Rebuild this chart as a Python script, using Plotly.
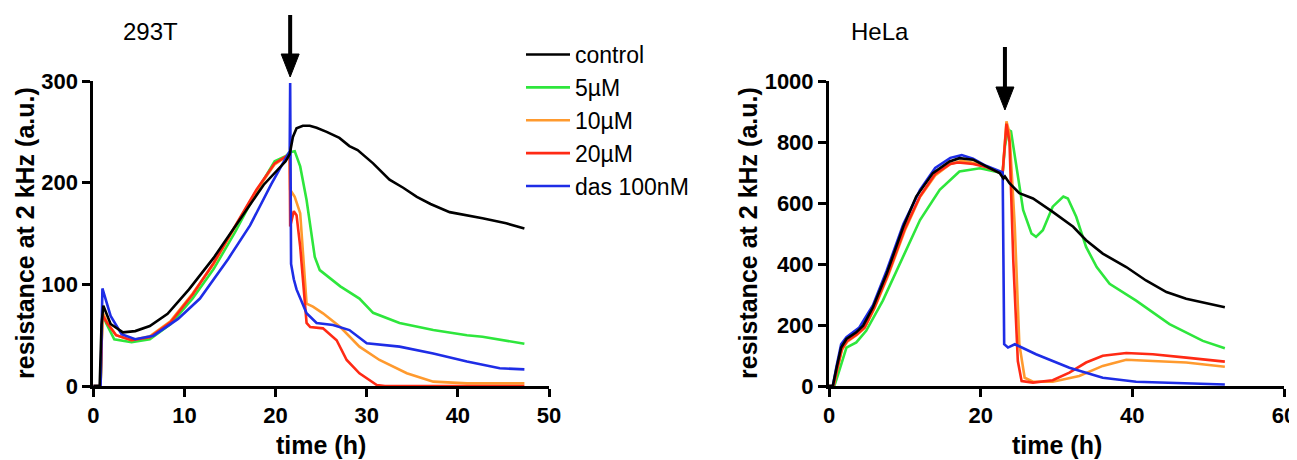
import plotly.graph_objects as go

# ---------------- data: 293T (left) ----------------
series_names = ["control", "5\u00b5M", "10\u00b5M", "20\u00b5M", "das 100nM"]
series_colors = ["#000000", "#2ee63c", "#ff9a2e", "#ff2a14", "#1e2de6"]

t293_ctrl = [0, 0.7, 0.9, 1.1, 1.9, 3.25, 4.6, 6.2, 8.15, 10.5, 13.2, 16.4, 18.7, 21.1, 21.55, 21.9, 22.3, 23.0,
             23.75, 24.5, 25.6, 27.0, 28.1, 29.0, 30.7, 32.5, 34.0, 35.5, 37.0, 39.1, 41.0, 42.7, 45.3, 47.3]
r293_ctrl = [0, 0, 60, 79, 61, 52.8, 54, 59, 71, 95, 126, 168, 198, 221, 228, 245, 253.5, 256,
             256, 254, 250, 244, 236, 232, 219, 203, 195, 186, 179, 171, 168, 165, 160, 155]

t293_5 = [0, 0.8, 1.0, 1.4, 2.3, 4.2, 6.2, 8.5, 10.9, 13.2, 15.6, 17.9, 19.9, 21.1, 21.6, 22.1, 22.7, 23.4,
          24.3, 24.85, 27.1, 29.2, 30.7, 33.6, 37.3, 41.0, 42.7, 47.3]
r293_5 = [0, 0, 72, 62, 46, 43, 46, 61, 86, 115, 152, 191, 221, 226, 230, 231, 216, 183,
          127, 114, 98, 86, 72, 62, 55, 50, 48.5, 41.5]

t293_10 = [0, 0.8, 1.0, 1.5, 2.5, 4.2, 6.2, 8.5, 10.9, 13.2, 15.6, 17.9, 19.9, 21.55, 21.6, 22.1, 22.7, 23.4,
           24.1, 25.2, 27.1, 29.2, 31.4, 34.4, 37.3, 41.0, 47.3]
r293_10 = [0, 0, 73, 63, 50, 45, 49, 64, 91, 120, 157, 192, 218, 228, 193, 186, 170, 81,
           78, 71.5, 58, 38.7, 25.6, 12.5, 4.3, 2.6, 2.6]

t293_20 = [0, 0.8, 1.0, 1.5, 2.5, 4.2, 6.2, 8.5, 10.9, 13.2, 15.6, 17.9, 19.9, 21.55, 21.6, 22.0, 22.3, 22.7,
           23.4, 23.8, 25.2, 26.7, 27.8, 29.2, 31.1, 32.0, 47.3]
r293_20 = [0, 0, 70, 62, 50, 45, 48, 63, 90, 121, 158, 193, 219, 228, 157, 172, 168, 137,
           62, 58, 56.7, 45, 25.6, 12.5, 1, 0, 0]

t293_das = [0, 0.8, 1.0, 1.9, 3.1, 4.6, 6.6, 9.3, 11.7, 14.8, 17.2, 19.5, 21.1, 21.55, 21.6, 21.62, 21.7, 22.0,
            22.3, 23.4, 24.5, 26.3, 28.1, 30.0, 33.6, 37.3, 41.0, 44.6, 47.3]
r293_das = [0, 0, 96, 69, 51, 46, 49.5, 66, 86, 125, 158, 198, 224, 231, 298, 150, 120, 105,
            95, 71.5, 62, 60, 55, 42, 38.7, 32, 24, 17.4, 16.4]

# ---------------- data: HeLa (right) ----------------
thela_ctrl = [0, 0.5, 1.0, 1.6, 2.3, 3.6, 4.5, 5.8, 7.6, 9.8, 11.5, 13.7, 15.9, 17.2, 19.0, 20.7, 22.5, 23.0,
              23.2, 23.8, 25.1, 26.9, 29.5, 32.2, 33.9, 36.1, 39.2, 41.8, 44.5, 47.1, 49.3, 52.2]
rhela_ctrl = [0, 0, 60, 126, 154, 176, 198, 258, 368, 522, 621, 698, 736, 747, 742, 720, 698, 680,
              687, 665, 632, 615, 571, 522, 478, 434, 390, 346, 308, 286, 275, 258]

thela_5 = [0, 0.7, 1.2, 2.3, 3.6, 4.9, 7.1, 9.8, 12.0, 14.6, 17.2, 19.9, 22.1, 22.9, 23.2, 23.6, 24.0,
           24.7, 25.6, 26.7, 27.3, 28.2, 29.5, 30.9, 31.5, 32.6, 33.9, 35.3, 37.0, 40.5, 44.9, 49.3, 52.2]
rhela_5 = [0, 0, 38, 126, 143, 181, 280, 423, 544, 643, 703, 714, 703, 698, 786, 841, 835,
           720, 577, 500, 489, 511, 588, 621, 615, 555, 456, 390, 335, 280, 203, 148, 124]

thela_10 = [0, 0.6, 1.1, 1.7, 2.4, 3.7, 4.7, 6.0, 7.8, 10.0, 12.0, 14.0, 16.0, 17.5, 19.0, 20.7, 22.5, 22.9,
            23.4, 23.8, 24.5, 25.1, 25.8, 26.9, 29.5, 33.0, 36.1, 39.2, 42.7, 47.1, 52.2]
rhela_10 = [0, 0, 55, 118, 145, 168, 190, 255, 362, 510, 620, 690, 728, 738, 732, 720, 700, 700,
            868, 830, 522, 137, 27, 14, 14, 33, 66, 86, 82, 77, 63]

thela_20 = [0, 0.6, 1.1, 1.7, 2.4, 3.7, 4.7, 6.0, 7.8, 10.0, 12.0, 14.0, 16.0, 17.0, 19.0, 20.7, 22.5, 22.9,
            23.4, 23.8, 24.3, 24.9, 25.4, 26.9, 29.5, 31.7, 33.9, 36.1, 39.2, 42.7, 47.1, 52.2]
rhela_20 = [0, 0, 58, 122, 148, 170, 192, 258, 368, 516, 622, 695, 728, 733, 728, 718, 700, 700,
            860, 800, 412, 82, 16, 11, 19, 44, 77, 99, 108, 104, 93, 80]

thela_das = [0, 0.5, 1.0, 1.6, 2.3, 4.0, 5.8, 7.6, 9.8, 12.0, 14.0, 16.0, 17.5, 19.0, 20.7, 22.5, 22.9,
             23.1, 23.6, 24.5, 27.3, 31.7, 36.1, 40.5, 47.1, 52.2]
rhela_das = [0, 0, 66, 137, 160, 192, 265, 378, 530, 643, 715, 748, 757, 745, 722, 705, 700,
             137, 126, 137, 104, 60, 27, 14, 8, 5]

panel_titles = ["293T", "HeLa"]
xticks_293 = [0, 10, 20, 30, 40, 50]
yticks_293 = [0, 100, 200, 300]
xticks_hela = [0, 20, 40, 60]
yticks_hela = [0, 200, 400, 600, 800, 1000]
treatment_time = [21.6, 23.2]
y_label = "resistance at 2 kHz (a.u.)"
x_label = "time (h)"

# ---------------- figure ----------------
FONT = "Liberation Sans, Arial, sans-serif"
PAGE_MARGIN = 8  # default body margin of the html page
W, H = 1297 - PAGE_MARGIN, 460 - PAGE_MARGIN

fig = go.Figure()

left = [(t293_ctrl, r293_ctrl), (t293_5, r293_5), (t293_10, r293_10), (t293_20, r293_20), (t293_das, r293_das)]
right = [(thela_ctrl, rhela_ctrl), (thela_5, rhela_5), (thela_10, rhela_10), (thela_20, rhela_20), (thela_das, rhela_das)]
draw_order = [1, 2, 3, 4, 0]

for i in draw_order:
    fig.add_trace(go.Scatter(x=left[i][0], y=left[i][1], mode="lines", name=series_names[i],
                             line=dict(color=series_colors[i], width=2.6), legendrank=i + 1,
                             xaxis="x", yaxis="y", showlegend=True))
for i in draw_order:
    fig.add_trace(go.Scatter(x=right[i][0], y=right[i][1], mode="lines", name=series_names[i],
                             line=dict(color=series_colors[i], width=2.6),
                             xaxis="x2", yaxis="y2", showlegend=False))

def px_x(p):
    return (p - PAGE_MARGIN) / W

def px_y(p):
    return (H - (p - PAGE_MARGIN)) / H

axis_common = dict(showline=True, linewidth=3, linecolor="black", ticks="outside", ticklen=8,
                   tickwidth=3, tickcolor="black", showgrid=False, zeroline=False, automargin=False,
                   ticklabeloverflow="allow",
                   tickfont=dict(family=FONT, size=22, color="black", weight="bold"), layer="below traces")

fig.update_layout(
    width=W, height=H,
    margin=dict(l=0, r=0, t=0, b=0, autoexpand=False),
    paper_bgcolor="white", plot_bgcolor="white",
    xaxis=dict(domain=[px_x(93.3), px_x(549)], range=[0, 50], tickvals=xticks_293, anchor="y", **axis_common),
    yaxis=dict(domain=[px_y(386), px_y(81)], range=[0, 300], tickvals=yticks_293, anchor="x", **axis_common),
    xaxis2=dict(domain=[px_x(829), px_x(1284)], range=[0, 60], tickvals=xticks_hela, anchor="y2", **axis_common),
    yaxis2=dict(domain=[px_y(386), px_y(81)], range=[0, 1000], tickvals=yticks_hela, anchor="x2", **axis_common),
    legend=dict(x=px_x(521), y=px_y(33), xanchor="left", yanchor="top", bgcolor="rgba(0,0,0,0)",
                font=dict(family=FONT, size=23, color="black"), itemwidth=44, tracegroupgap=0),
    showlegend=True,
)

annotations = []
# panel titles
annotations.append(dict(text=panel_titles[0], xref="paper", yref="paper", x=px_x(121), y=px_y(31),
                        xanchor="left", yanchor="middle", showarrow=False,
                        font=dict(family=FONT, size=24, color="black")))
annotations.append(dict(text=panel_titles[1], xref="paper", yref="paper", x=px_x(849), y=px_y(31),
                        xanchor="left", yanchor="middle", showarrow=False,
                        font=dict(family=FONT, size=24, color="black")))
# axis titles
for cx, cy in [(25, 233), (748, 233)]:
    annotations.append(dict(text=y_label, xref="paper", yref="paper", x=px_x(cx), y=px_y(cy),
                            xanchor="center", yanchor="middle", textangle=-90, showarrow=False,
                            font=dict(family=FONT, size=25, color="black", weight="bold")))
for cx in [321, 1057]:
    annotations.append(dict(text=x_label, xref="paper", yref="paper", x=px_x(cx), y=px_y(445),
                            xanchor="center", yanchor="middle", showarrow=False,
                            font=dict(family=FONT, size=25, color="black", weight="bold")))
fig.update_layout(annotations=annotations)

# treatment arrows (shaft + head): x from the data axis, vertical in pixels from the axis top
shapes = []
for xr, xa, tip, top in [("x", treatment_time[0], 4, 66), ("x2", treatment_time[1], -29, 34)]:
    ya = px_y(81)
    shapes.append(dict(type="line", xref=xr, yref="paper", xsizemode="pixel", ysizemode="pixel",
                       xanchor=xa, yanchor=ya, x0=0, x1=0, y0=tip + 20, y1=top,
                       line=dict(color="black", width=4)))
    shapes.append(dict(type="path", xref=xr, yref="paper", xsizemode="pixel", ysizemode="pixel",
                       xanchor=xa, yanchor=ya,
                       path=f"M-9,{tip + 23} L9,{tip + 23} L0,{tip} Z",
                       fillcolor="black", line=dict(color="black", width=1)))
fig.update_layout(shapes=shapes)

fig.write_html("out.html")
